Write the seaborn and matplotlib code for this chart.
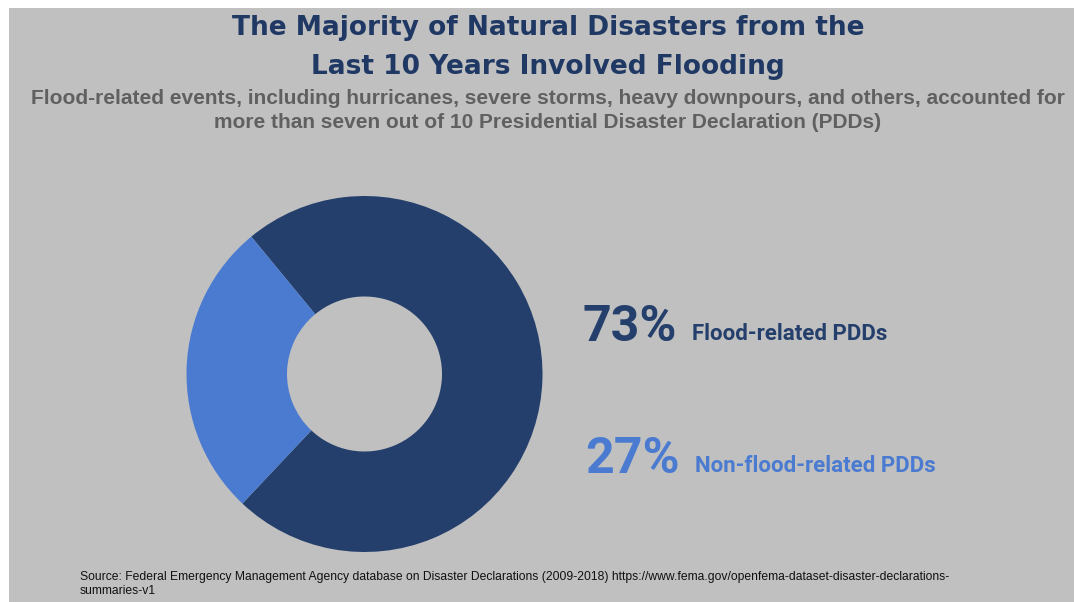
import matplotlib
matplotlib.use("Agg")
import matplotlib.pyplot as plt
import seaborn as sns
from matplotlib.patches import Rectangle

# ---- data ----
categories = ["Flood-related PDDs", "Non-flood-related PDDs"]
shares = [73, 27]
share_labels = ["73%", "27%"]
title_lines = ["The Majority of Natural Disasters from the", "Last 10 Years Involved Flooding"]
subtitle_lines = [
    "Flood-related events, including hurricanes, severe storms, heavy downpours, and others, accounted for",
    "more than seven out of 10 Presidential Disaster Declaration (PDDs)",
]
source_lines = [
    "Source: Federal Emergency Management Agency database on Disaster Declarations (2009-2018) https://www.fema.gov/openfema-dataset-disaster-declarations-",
    "summaries-v1",
]

sns.set_theme(style="white")
plt.rcParams["font.family"] = ["Liberation Sans", "DejaVu Sans"]

W, H = 1074, 602
BG = "#c0c0c0"
palette = sns.color_palette(["#243f6b", "#4a7bd0"])
title_color = "#1f3864"
sub_color = "#606060"

fig = plt.figure(figsize=(W / 100, H / 100), dpi=100)
fig.patch.set_facecolor("white")
fig.patches.append(Rectangle((9 / W, 0), 1 - 9 / W, 1 - 8 / H, transform=fig.transFigure,
                             facecolor=BG, edgecolor="none", zorder=-5))

def px(x, y):
    return x / W, 1 - y / H

# donut
cx, cy, R, r_in = 364.5, 374, 178, 77.5
ax = fig.add_axes([(cx - R) / W, (H - cy - R) / H, 2 * R / W, 2 * R / H])
ax.set_zorder(2)
ax.set_facecolor("none")
ax.pie(shares, colors=palette, startangle=226.7, counterclock=True,
       radius=1, wedgeprops=dict(width=(R - r_in) / R, linewidth=0))
ax.set_xlim(-1, 1)
ax.set_ylim(-1, 1)
ax.set_aspect("auto")
ax.axis("off")

# titles
for line, yb in zip(title_lines, [35, 74]):
    fig.text(*px(548, yb), line, ha="center", va="baseline", fontsize=19,
             fontweight="bold", color=title_color, family=["DejaVu Sans"])
for line, yb in zip(subtitle_lines, [104, 128]):
    fig.text(*px(548, yb), line, ha="center", va="baseline", fontsize=15,
             fontweight="bold", color=sub_color)

# labels
pos = [(583, 341, 692, 340), (585, 473, 695, 472)]
for (x1, y1, x2, y2), lab, cat, col in zip(pos, share_labels, categories, palette):
    fig.text(*px(x1, y1), lab, ha="left", va="baseline", fontsize=36,
             fontweight="bold", color=col, family=["Roboto", "DejaVu Sans"])
    fig.text(*px(x2, y2), cat, ha="left", va="baseline", fontsize=16,
             fontweight="bold", color=col, family=["Roboto", "DejaVu Sans"])

for line, yb in zip(source_lines, [580, 594]):
    fig.text(*px(80, yb), line, ha="left", va="baseline", fontsize=8.75, color="#111111")

fig.savefig("out.png", dpi=100, facecolor=fig.get_facecolor())
